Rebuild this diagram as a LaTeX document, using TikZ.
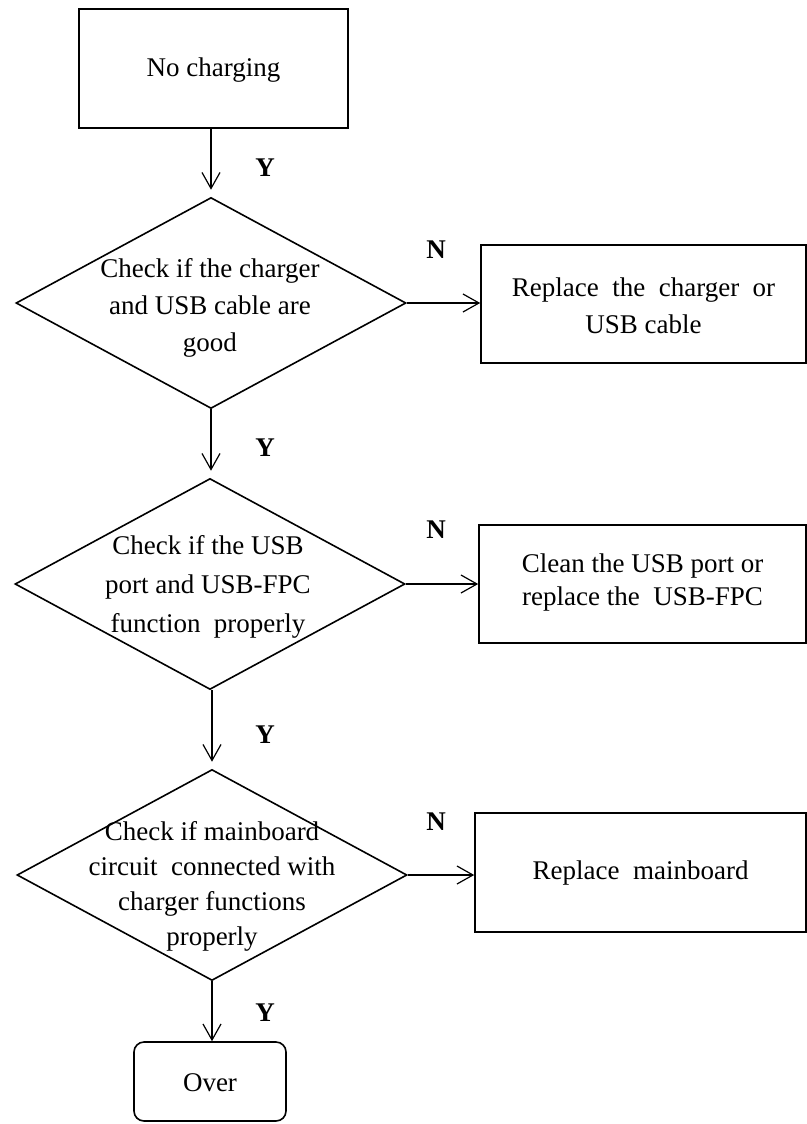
\documentclass[tikz,border=0pt]{standalone}
\usepackage{fontspec}
\setmainfont{Liberation Serif}
\usetikzlibrary{shapes.geometric,arrows.meta}

\begin{document}
\begin{tikzpicture}[x=0.5pt,y=-0.5pt,
  box/.style={draw=black,line width=0.8pt,inner sep=0pt},
  dia/.style={draw=black,line width=0.8pt,inner sep=0pt,shape=diamond,minimum width=195pt,minimum height=105.5pt},
  txt/.style={align=center,inner sep=0pt,font=\fontsize{13.5}{18.5}\selectfont},
  flow/.style={draw=black,line width=0.6pt,-{Straight Barb[length=8pt,width=9pt]}},
  yn/.style={inner sep=0pt,font=\fontsize{13.5}{16}\selectfont\bfseries}]
\useasboundingbox (0,0) rectangle (807,1124);
% left column
\node [box,minimum width=134.5pt,minimum height=59.5pt] (start) at (213.5,68.5) {};
\node [txt] (starttxt) at (213.5,70) {No charging};
\node [dia] (chkcable) at (211,303) {};
\node [txt] (chkcabletxt) at (210,308) {Check if the charger\\and USB cable are\\good};
\node [dia] (chkport) at (210,584) {};
\node [txt,font=\fontsize{13.5}{19.5}\selectfont] (chkporttxt) at (208,587) {Check if the USB\\port and USB-FPC\\function\ \ properly};
\node [dia] (chkboard) at (212,875) {};
\node [txt,font=\fontsize{13.5}{17.5}\selectfont] (chkboardtxt) at (212,886) {Check if mainboard\\circuit\ \ connected with\\charger functions\\properly};
\node [box,rounded corners=5pt,minimum width=76pt,minimum height=39.5pt] (over) at (210,1081.5) {};
\node [txt] (overtxt) at (210,1083) {Over};
% right column
\node [box,minimum width=162.5pt,minimum height=59pt] (repcable) at (643.5,304) {};
\node [txt] (repcabletxt) at (643.5,306) {Replace\ \ the\ \ charger\ \ or\\USB cable};
\node [box,minimum width=163.5pt,minimum height=59pt] (repport) at (642.5,584) {};
\node [txt,font=\fontsize{13.5}{16.5}\selectfont] (repporttxt) at (642.5,582) {Clean the USB port or\\replace\ the\ \ USB-FPC};
\node [box,minimum width=165.5pt,minimum height=59.5pt] (repboard) at (640.5,872.5) {};
\node [txt] (repboardtxt) at (640.5,873) {Replace\ \ mainboard};
% connectors
\draw [flow,shorten >=3.5pt] (chkcable.north |- start.south) -- (chkcable.north);
\draw [flow,shorten >=3.5pt] (chkcable.south) -- (chkcable.south |- chkport.north);
\draw [flow,shorten >=3.5pt] (chkboard.north |- chkport.south) -- (chkboard.north);
\draw [flow] (chkboard.south) -- (chkboard.south |- over.north);
\draw [flow] (chkcable.east) -- (chkcable.east -| repcable.west);
\draw [flow] (chkport.east) -- (chkport.east -| repport.west);
\draw [flow] (chkboard.east) -- (chkboard.east -| repboard.west);
% Y and N marks
\node [yn] (y1) at (265,168) {Y};
\node [yn] (y2) at (265,448) {Y};
\node [yn] (y3) at (265,735) {Y};
\node [yn] (y4) at (265,1013) {Y};
\node [yn] (n1) at (436,250) {N};
\node [yn] (n2) at (436,530) {N};
\node [yn] (n3) at (436,822) {N};
\end{tikzpicture}
\end{document}
